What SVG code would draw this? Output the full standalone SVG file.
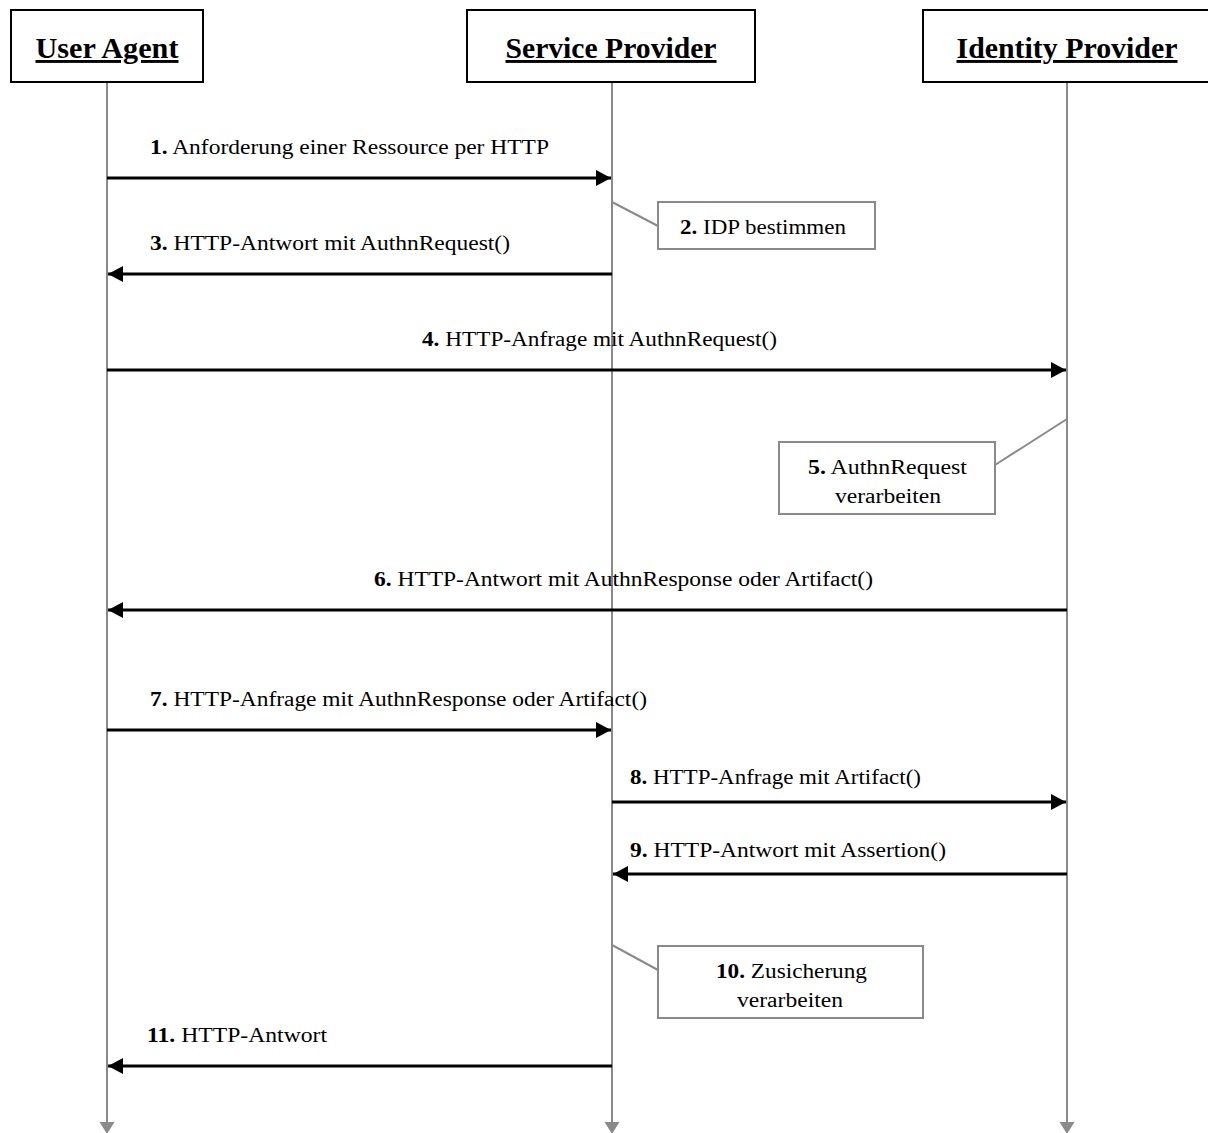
<svg xmlns="http://www.w3.org/2000/svg" width="1208" height="1133" viewBox="0 0 1208 1133">
  <style>
    .actor { fill: #ffffff; stroke: #000000; stroke-width: 2; }
    .title { font-family: "Liberation Serif", "DejaVu Serif", serif; font-size: 29px; font-weight: bold; text-decoration: underline; text-anchor: middle; fill: #000; }
    .life { stroke: #8a8a8a; stroke-width: 2; fill: none; marker-end: url(#lifeEnd); }
    .msg { stroke: #000; stroke-width: 3; fill: none; marker-end: url(#msgHead); }
    .label { font-family: "Liberation Serif", "DejaVu Serif", serif; font-size: 20.5px; fill: #000; }
    .num { font-weight: bold; }
    .note { fill: #ffffff; stroke: #8a8a8a; stroke-width: 2; }
    .link { stroke: #8a8a8a; stroke-width: 2; fill: none; }
  </style>
  <defs>
    <marker id="msgHead" markerUnits="userSpaceOnUse" markerWidth="16" markerHeight="16" refX="15" refY="8" orient="auto">
      <path d="M0,0 L15,8 L0,16 Z" fill="#000"/>
    </marker>
    <marker id="lifeEnd" markerUnits="userSpaceOnUse" markerWidth="12" markerHeight="16" refX="0" refY="8" orient="auto">
      <path d="M0,0.5 L12,8 L0,15.5 Z" fill="#8a8a8a"/>
    </marker>
  </defs>

  <rect width="1208" height="1133" fill="#ffffff"/>

  <!-- lifelines -->
  <g id="lifelines">
    <line class="life" x1="107" y1="82" x2="107" y2="1122"/>
    <line class="life" x1="612" y1="82" x2="612" y2="1122"/>
    <line class="life" x1="1067" y1="82" x2="1067" y2="1122"/>
  </g>

  <!-- participants -->
  <g id="user-agent">
    <rect class="actor" x="11" y="10" width="192" height="72"/>
    <text class="title" x="107" y="58" textLength="143" lengthAdjust="spacingAndGlyphs">User Agent</text>
  </g>
  <g id="service-provider">
    <rect class="actor" x="467" y="10" width="288" height="72"/>
    <text class="title" x="611" y="58" textLength="211" lengthAdjust="spacingAndGlyphs">Service Provider</text>
  </g>
  <g id="identity-provider">
    <rect class="actor" x="923" y="10" width="300" height="72"/>
    <text class="title" x="1067" y="58" textLength="221" lengthAdjust="spacingAndGlyphs">Identity Provider</text>
  </g>

  <!-- notes -->
  <g id="note-2">
    <line class="link" x1="612" y1="202" x2="658" y2="226"/>
    <rect class="note" x="658" y="202" width="217" height="47"/>
    <text class="label" x="680" y="234" textLength="166" lengthAdjust="spacingAndGlyphs"><tspan class="num">2.</tspan> IDP bestimmen</text>
  </g>
  <g id="note-5">
    <line class="link" x1="1067" y1="419" x2="995" y2="465"/>
    <rect class="note" x="779" y="442" width="216" height="72"/>
    <text class="label" x="808" y="474" textLength="159" lengthAdjust="spacingAndGlyphs"><tspan class="num">5.</tspan> AuthnRequest</text>
    <text class="label" x="835" y="503" textLength="106" lengthAdjust="spacingAndGlyphs">verarbeiten</text>
  </g>
  <g id="note-10">
    <line class="link" x1="612" y1="945" x2="658" y2="970"/>
    <rect class="note" x="658" y="946" width="265" height="72"/>
    <text class="label" x="716" y="978" textLength="151" lengthAdjust="spacingAndGlyphs"><tspan class="num">10.</tspan> Zusicherung</text>
    <text class="label" x="737" y="1007" textLength="106" lengthAdjust="spacingAndGlyphs">verarbeiten</text>
  </g>

  <!-- messages -->
  <g id="connectors">
    <line class="msg" x1="107" y1="178" x2="611" y2="178"/>
    <line class="msg" x1="612" y1="274" x2="108" y2="274"/>
    <line class="msg" x1="107" y1="370" x2="1066" y2="370"/>
    <line class="msg" x1="1067" y1="610" x2="108" y2="610"/>
    <line class="msg" x1="107" y1="730" x2="611" y2="730"/>
    <line class="msg" x1="612" y1="802" x2="1066" y2="802"/>
    <line class="msg" x1="1067" y1="874" x2="613" y2="874"/>
    <line class="msg" x1="612" y1="1066" x2="108" y2="1066"/>
  </g>

  <!-- message labels -->
  <g id="labels">
    <text class="label" x="150" y="154" textLength="399" lengthAdjust="spacingAndGlyphs"><tspan class="num">1.</tspan> Anforderung einer Ressource per HTTP</text>
    <text class="label" x="150" y="250" textLength="360" lengthAdjust="spacingAndGlyphs"><tspan class="num">3.</tspan> HTTP-Antwort mit AuthnRequest()</text>
    <text class="label" x="422" y="346" textLength="355" lengthAdjust="spacingAndGlyphs"><tspan class="num">4.</tspan> HTTP-Anfrage mit AuthnRequest()</text>
    <text class="label" x="374" y="586" textLength="499" lengthAdjust="spacingAndGlyphs"><tspan class="num">6.</tspan> HTTP-Antwort mit AuthnResponse oder Artifact()</text>
    <text class="label" x="150" y="706" textLength="497" lengthAdjust="spacingAndGlyphs"><tspan class="num">7.</tspan> HTTP-Anfrage mit AuthnResponse oder Artifact()</text>
    <text class="label" x="630" y="784" textLength="291" lengthAdjust="spacingAndGlyphs"><tspan class="num">8.</tspan> HTTP-Anfrage mit Artifact()</text>
    <text class="label" x="630" y="857" textLength="316" lengthAdjust="spacingAndGlyphs"><tspan class="num">9.</tspan> HTTP-Antwort mit Assertion()</text>
    <text class="label" x="147" y="1042" textLength="180" lengthAdjust="spacingAndGlyphs"><tspan class="num">11.</tspan> HTTP-Antwort</text>
  </g>
</svg>
